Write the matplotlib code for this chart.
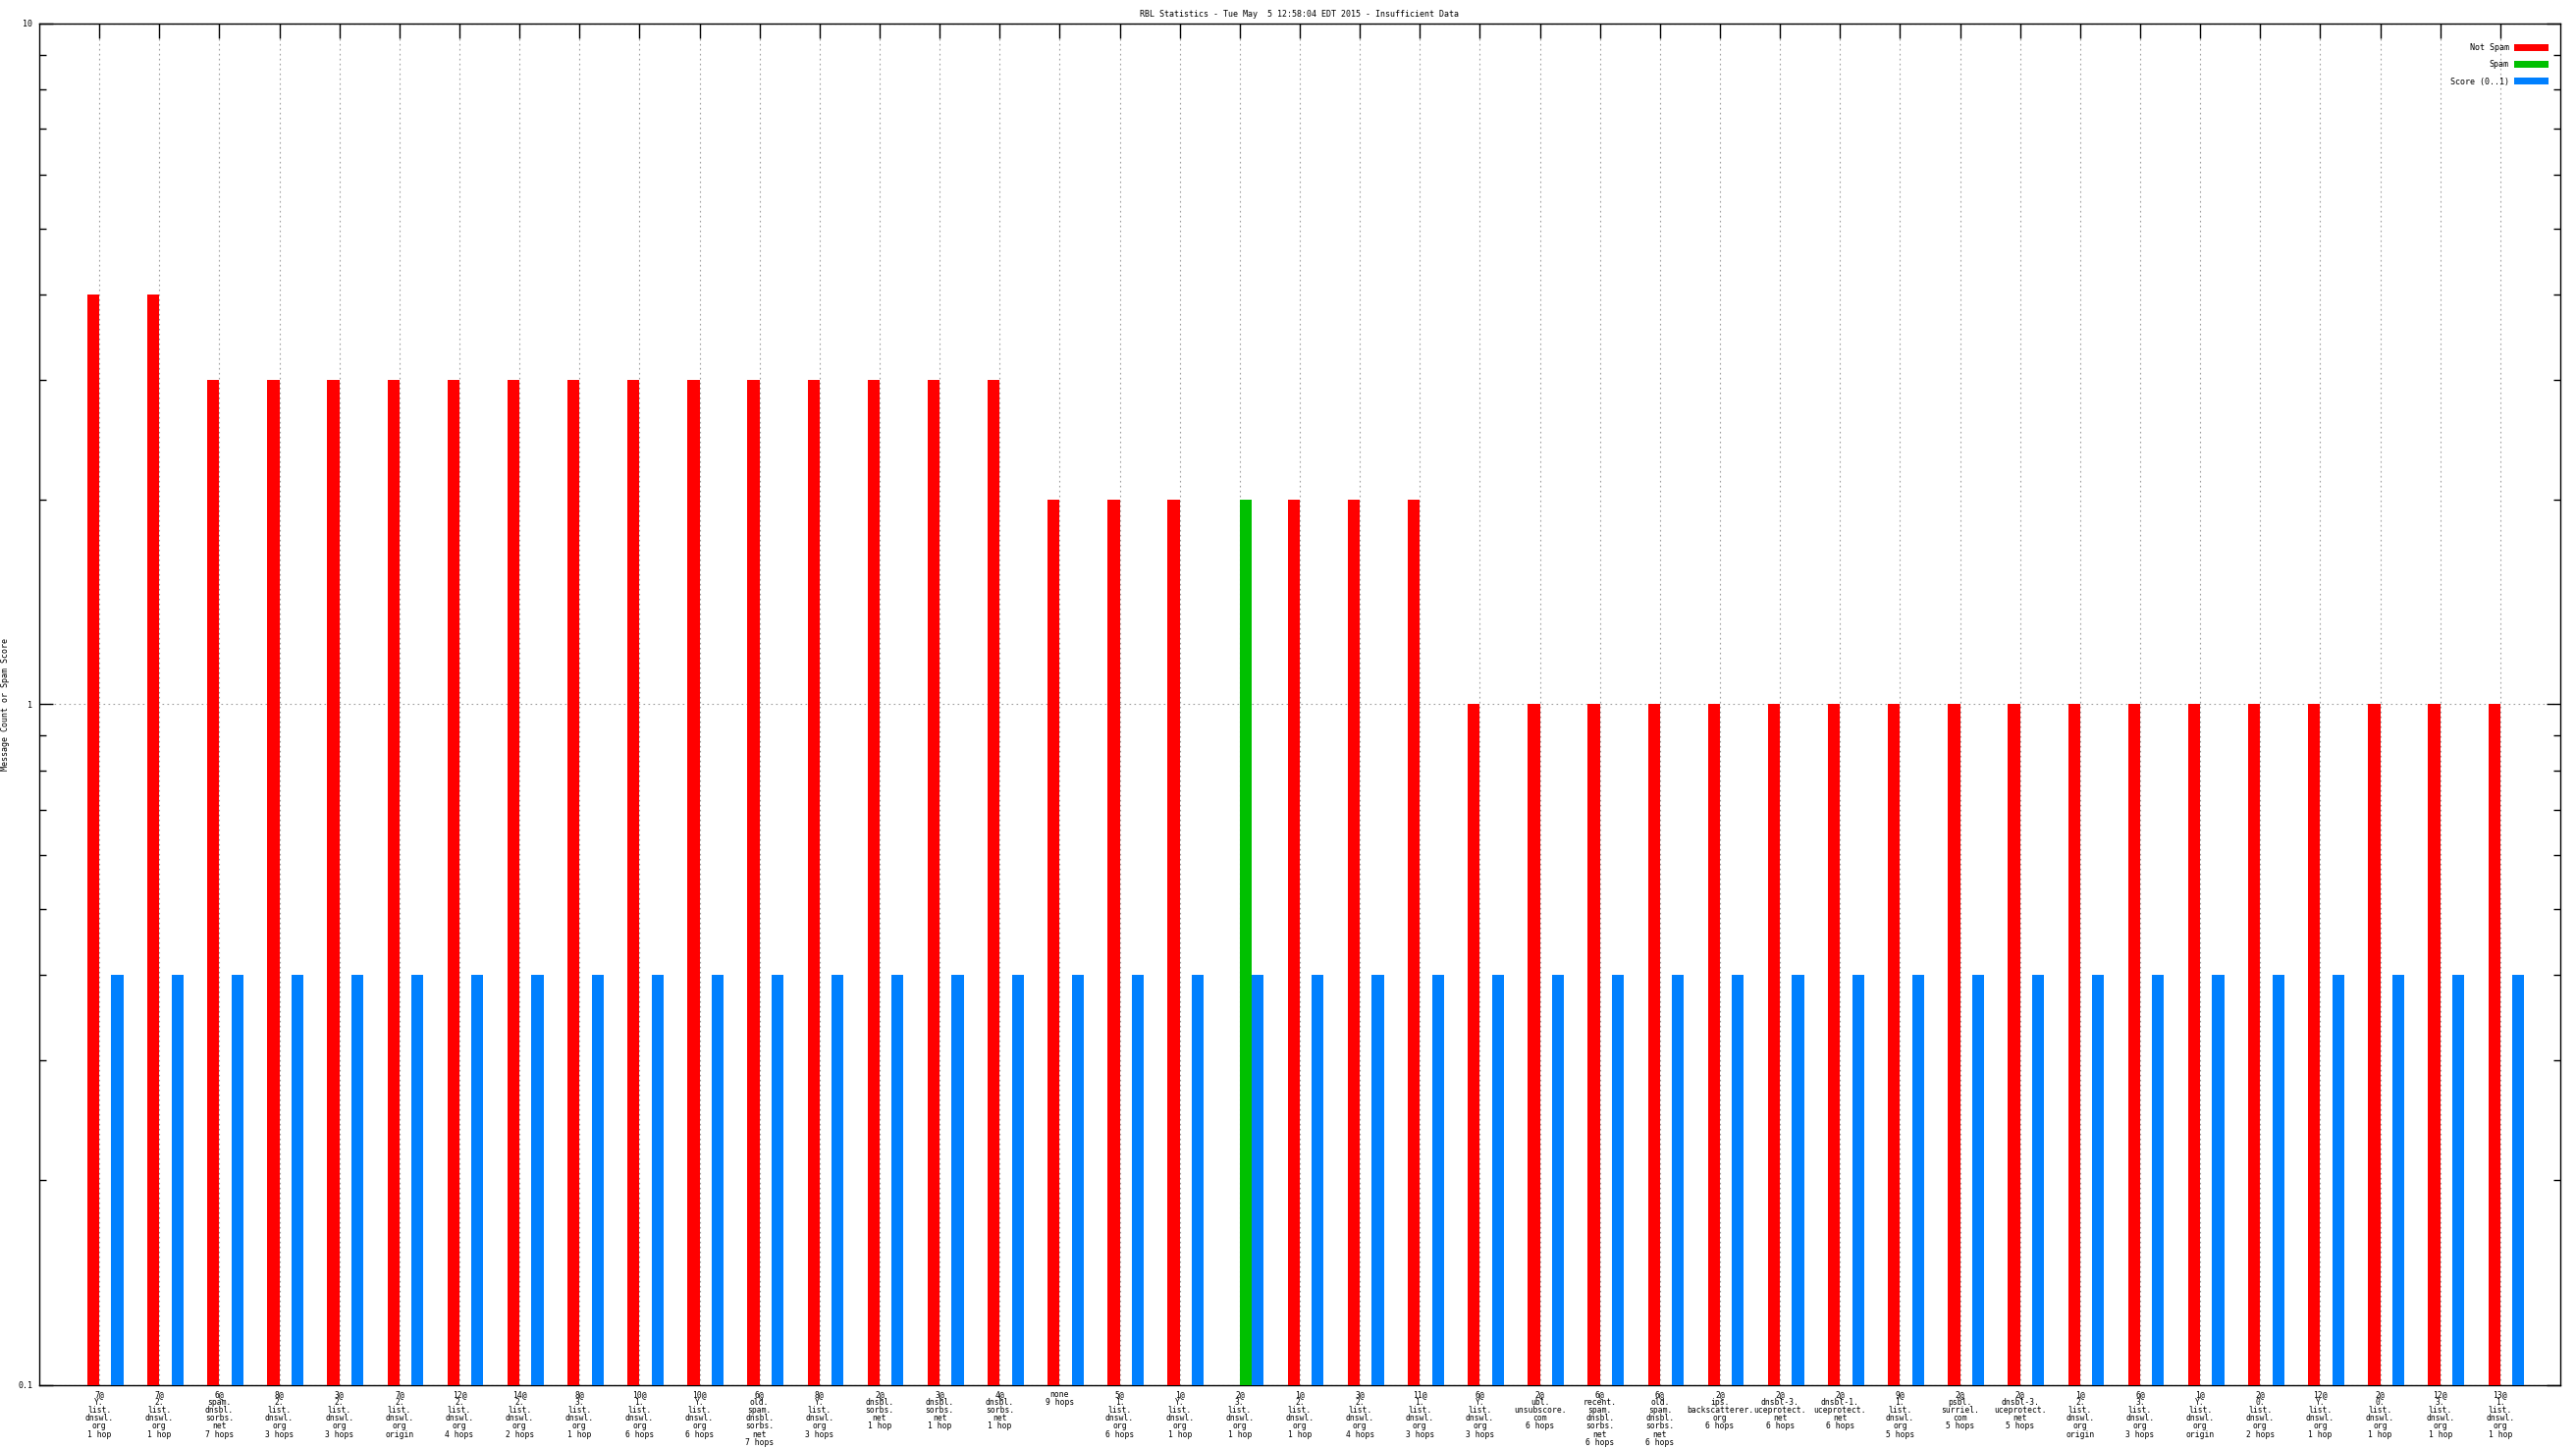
import numpy as np
import matplotlib
matplotlib.use("Agg")
import matplotlib.pyplot as plt
from matplotlib.ticker import FixedLocator, FixedFormatter, LogLocator, NullFormatter

# Datos
etiquetas = [
    "7@\nY.\nlist.\ndnswl.\norg\n1 hop",
    "7@\n2.\nlist.\ndnswl.\norg\n1 hop",
    "6@\nspam.\ndnsbl.\nsorbs.\nnet\n7 hops",
    "8@\n2.\nlist.\ndnswl.\norg\n3 hops",
    "3@\n2.\nlist.\ndnswl.\norg\n3 hops",
    "7@\n2.\nlist.\ndnswl.\norg\norigin",
    "12@\n2.\nlist.\ndnswl.\norg\n4 hops",
    "14@\n2.\nlist.\ndnswl.\norg\n2 hops",
    "8@\n3.\nlist.\ndnswl.\norg\n1 hop",
    "10@\n1.\nlist.\ndnswl.\norg\n6 hops",
    "10@\nY.\nlist.\ndnswl.\norg\n6 hops",
    "6@\nold.\nspam.\ndnsbl.\nsorbs.\nnet\n7 hops",
    "8@\nY.\nlist.\ndnswl.\norg\n3 hops",
    "2@\ndnsbl.\nsorbs.\nnet\n1 hop",
    "3@\ndnsbl.\nsorbs.\nnet\n1 hop",
    "4@\ndnsbl.\nsorbs.\nnet\n1 hop",
    "none\n9 hops",
    "5@\n1.\nlist.\ndnswl.\norg\n6 hops",
    "1@\nY.\nlist.\ndnswl.\norg\n1 hop",
    "2@\n3.\nlist.\ndnswl.\norg\n1 hop",
    "1@\n2.\nlist.\ndnswl.\norg\n1 hop",
    "3@\n2.\nlist.\ndnswl.\norg\n4 hops",
    "11@\n1.\nlist.\ndnswl.\norg\n3 hops",
    "6@\nY.\nlist.\ndnswl.\norg\n3 hops",
    "2@\nubl.\nunsubscore.\ncom\n6 hops",
    "6@\nrecent.\nspam.\ndnsbl.\nsorbs.\nnet\n6 hops",
    "6@\nold.\nspam.\ndnsbl.\nsorbs.\nnet\n6 hops",
    "2@\nips.\nbackscatterer.\norg\n6 hops",
    "2@\ndnsbl-3.\nuceprotect.\nnet\n6 hops",
    "2@\ndnsbl-1.\nuceprotect.\nnet\n6 hops",
    "9@\n1.\nlist.\ndnswl.\norg\n5 hops",
    "2@\npsbl.\nsurriel.\ncom\n5 hops",
    "2@\ndnsbl-3.\nuceprotect.\nnet\n5 hops",
    "1@\n2.\nlist.\ndnswl.\norg\norigin",
    "6@\n3.\nlist.\ndnswl.\norg\n3 hops",
    "1@\nY.\nlist.\ndnswl.\norg\norigin",
    "2@\n0.\nlist.\ndnswl.\norg\n2 hops",
    "12@\nY.\nlist.\ndnswl.\norg\n1 hop",
    "2@\n0.\nlist.\ndnswl.\norg\n1 hop",
    "12@\n3.\nlist.\ndnswl.\norg\n1 hop",
    "13@\n1.\nlist.\ndnswl.\norg\n1 hop",
]
not_spam = [4, 4, 3, 3, 3, 3, 3, 3, 3, 3, 3, 3, 3, 3, 3, 3,
            2, 2, 2, 0, 2, 2, 2,
            1, 1, 1, 1, 1, 1, 1, 1, 1, 1, 1, 1, 1, 1, 1, 1, 1, 1]
spam = [0] * 19 + [2] + [0] * 21
score = [0.4] * 41

titulo = "RBL Statistics - Tue May  5 12:58:04 EDT 2015 - Insufficient Data"
fuente = "DejaVu Sans Mono"

plt.rcParams['font.family'] = [fuente]
plt.rcParams['font.size'] = 6

fig = plt.figure(figsize=(26.24, 14.76), dpi=100)
ax = fig.add_axes([0.01524, 0.04404, 0.97866, 0.9397])

x = np.arange(len(etiquetas))
ancho = 0.2
ax.bar(x - 0.1, not_spam, ancho, color='#ff0000', label='Not Spam', zorder=3)
ax.bar(x + 0.1, spam, ancho, color='#00c000', label='Spam', zorder=3)
ax.bar(x + 0.3, score, ancho, color='#0080ff', label='Score (0..1)', zorder=3)

ax.set_yscale('log')
ax.set_ylim(0.1, 10)
ax.set_xlim(-1, 41)

ax.yaxis.set_major_locator(FixedLocator([0.1, 1, 10]))
ax.yaxis.set_major_formatter(FixedFormatter(["0.1", "1", "10"]))
ax.yaxis.set_minor_locator(LogLocator(base=10, subs=np.arange(2, 10)))
ax.yaxis.set_minor_formatter(NullFormatter())
ax.tick_params(axis='y', which='major', direction='in', length=10, width=1,
               left=True, right=True, pad=5, labelsize=6)
ax.tick_params(axis='y', which='minor', direction='in', length=5, width=1,
               left=True, right=True)

ax.set_xticks(x)
ax.set_xticklabels(etiquetas, fontsize=5.8, linespacing=0.88)
ax.tick_params(axis='x', which='major', direction='in', length=11, width=1,
               top=True, bottom=False, pad=3.5)

ax.grid(True, which='major', color='#a0a0a0', linestyle=(0, (1.5, 3)), lw=0.8, zorder=1)

for s in ax.spines.values():
    s.set_linewidth(1.0)

fig.text(6 / 2624, 0.514, "Message Count or Spam Score", rotation=90,
         ha='center', va='center', fontsize=6)
ax.set_title(titulo, fontsize=6, pad=5)

ax.legend(loc='upper right', bbox_to_anchor=(0.9965, 0.988), frameon=False,
          markerfirst=False, handlelength=4.2, handleheight=0.9,
          labelspacing=1.0, handletextpad=0.6, fontsize=6, borderaxespad=0)

fig.savefig("out.png", dpi=100)
